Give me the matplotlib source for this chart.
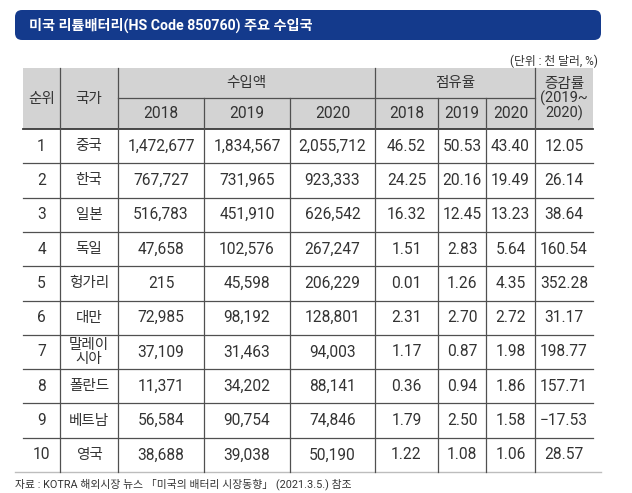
import matplotlib
matplotlib.use("Agg")
import matplotlib.pyplot as plt
from matplotlib.patches import FancyBboxPatch, Rectangle

plt.rcParams['font.family'] = ['Roboto', 'Noto Sans CJK KR', 'DejaVu Sans']

# ---- data ----
title = "미국 리튬배터리(HS Code 850760) 주요 수입국"
unit_note = "(단위 : 천 달러, %)"
source_note = "자료 : KOTRA 해외시장 뉴스 「미국의 배터리 시장동향」 (2021.3.5.) 참조"
years = ["2018", "2019", "2020"]
ranks = ["1", "2", "3", "4", "5", "6", "7", "8", "9", "10"]
countries = ["중국", "한국", "일본", "독일", "헝가리", "대만", "말레이\n시아", "폴란드", "베트남", "영국"]
import_2018 = ["1,472,677", "767,727", "516,783", "47,658", "215", "72,985", "37,109", "11,371", "56,584", "38,688"]
import_2019 = ["1,834,567", "731,965", "451,910", "102,576", "45,598", "98,192", "31,463", "34,202", "90,754", "39,038"]
import_2020 = ["2,055,712", "923,333", "626,542", "267,247", "206,229", "128,801", "94,003", "88,141", "74,846", "50,190"]
share_2018 = ["46.52", "24.25", "16.32", "1.51", "0.01", "2.31", "1.17", "0.36", "1.79", "1.22"]
share_2019 = ["50.53", "20.16", "12.45", "2.83", "1.26", "2.70", "0.87", "0.94", "2.50", "1.08"]
share_2020 = ["43.40", "19.49", "13.23", "5.64", "4.35", "2.72", "1.98", "1.86", "1.58", "1.06"]
growth = ["12.05", "26.14", "38.64", "160.54", "352.28", "31.17", "198.77", "157.71", "−17.53", "28.57"]

# ---- layout (pixel coordinates) ----
W, H = 632, 493
fig = plt.figure(figsize=(W / 100, H / 100), dpi=100)
ax = fig.add_axes([0, 0, 1, 1])
ax.set_xlim(0, W)
ax.set_ylim(H, 0)
ax.axis('off')

navy = '#143a8c'
line_c = '#505050'
txt_c = '#333333'
head_bg = '#d3d3d3'

# title bar
ax.add_patch(FancyBboxPatch((15, 10), 586, 30, boxstyle="round,pad=0,rounding_size=7",
                            facecolor=navy, edgecolor='none'))
ax.text(29, 25.5, title, color='white', fontsize=10.2, fontweight='bold', va='center', ha='left')
ax.text(598, 61, unit_note, color=txt_c, fontsize=8.5, va='center', ha='right')

cols = [23, 60, 118, 204, 290, 375, 438, 486, 535, 593]
head_top, head_mid, head_bot = 68, 98, 129
n = len(ranks)
row_h = (472 - head_bot) / n
rows = [head_bot + i * row_h for i in range(n + 1)]

# header background
ax.add_patch(Rectangle((cols[0], head_top), cols[-1] - cols[0], head_bot - head_top,
                       facecolor=head_bg, edgecolor='none'))

# lines
ax.plot([cols[2], cols[8]], [head_mid, head_mid], color=line_c, lw=0.9)
ax.plot([cols[0], cols[-1]], [head_bot, head_bot], color='#3a3a3a', lw=1.3)
for y in rows[1:-1]:
    ax.plot([cols[0], cols[-1]], [y, y], color=line_c, lw=0.9)
ax.plot([15, 601], [rows[-1], rows[-1]], color='#bdbdbd', lw=1.0)
for i, x in enumerate(cols[1:-1], start=1):
    top = head_mid if i in (3, 4, 6, 7) else head_top
    ax.plot([x, x], [top, rows[-1]], color=line_c, lw=0.9)

fs = 11.2
def cx(i):
    return (cols[i] + cols[i + 1]) / 2

# header text
ax.text(cx(0), (head_top + head_bot) / 2, "순위", ha='center', va='center', fontsize=10.5, color=txt_c)
ax.text(cx(1), (head_top + head_bot) / 2, "국가", ha='center', va='center', fontsize=10.5, color=txt_c)
ax.text((cols[2] + cols[5]) / 2, (head_top + head_mid) / 2, "수입액", ha='center', va='center', fontsize=10.5, color=txt_c)
ax.text((cols[5] + cols[8]) / 2, (head_top + head_mid) / 2, "점유율", ha='center', va='center', fontsize=10.5, color=txt_c)
for k, yr in enumerate(years):
    ax.text(cx(2 + k), (head_mid + head_bot) / 2, yr, ha='center', va='center', fontsize=fs, color=txt_c)
    ax.text(cx(5 + k), (head_mid + head_bot) / 2, yr, ha='center', va='center', fontsize=fs, color=txt_c)
ax.text(cx(8), (head_top + head_bot) / 2 + 0.5, "증감률\n(2019~\n2020)", ha='center', va='center',
        fontsize=10.5, color=txt_c, linespacing=0.95)

# body
columns = [ranks, countries, import_2018, import_2019, import_2020,
           share_2018, share_2019, share_2020, growth]
for r in range(n):
    yc = (rows[r] + rows[r + 1]) / 2
    for c, col in enumerate(columns):
        size = 10.5 if c == 1 else fs
        ax.text(cx(c), yc, col[r], ha='center', va='center', fontsize=size, color=txt_c,
                linespacing=1.0)

ax.text(15, 484, source_note, ha='left', va='center', fontsize=7.8, color=txt_c)

fig.savefig('out.png', dpi=100)
